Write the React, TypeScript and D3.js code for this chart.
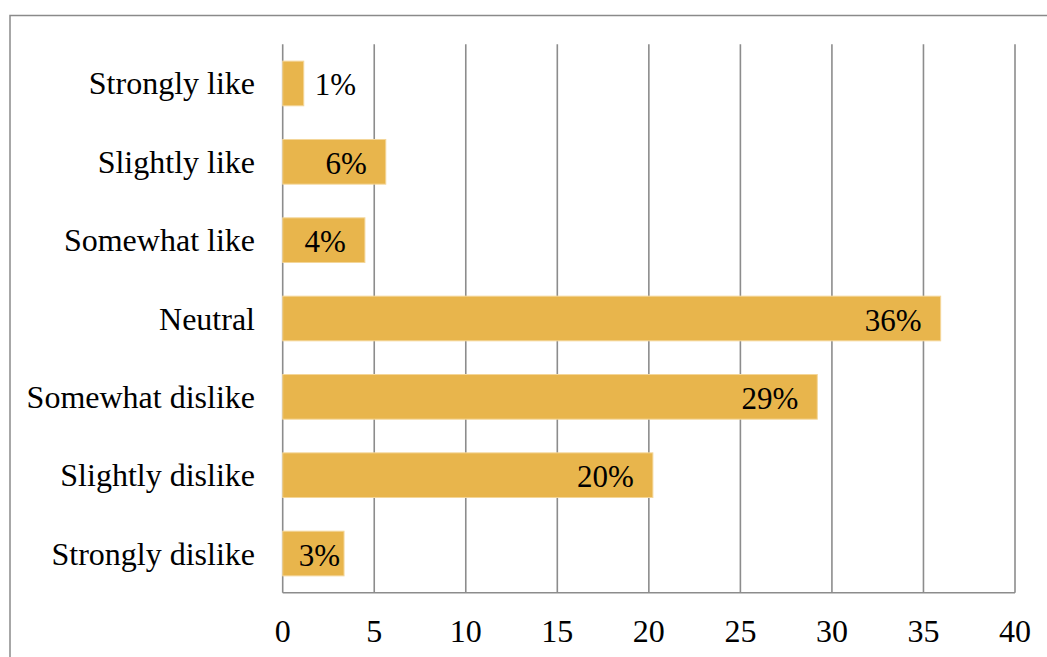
import React from "react";
import * as d3 from "d3";

const categories = [
  "Strongly like",
  "Slightly like",
  "Somewhat like",
  "Neutral",
  "Somewhat dislike",
  "Slightly dislike",
  "Strongly dislike",
];
const values = [1.15, 5.63, 4.49, 35.94, 29.2, 20.22, 3.35];
const xTicks = [0, 5, 10, 15, 20, 25, 30, 35, 40];

const W = 1047;
const H = 657;
const FONT = "'Liberation Serif', 'Times New Roman', serif";
const FS = 32;
const FS_VAL = 31;
const GRID = "#8c8c8c";
const BAR = "#E8B54C";
const axisText = { fontFamily: FONT, fontSize: FS };
const valueText = { fontFamily: FONT, fontSize: FS_VAL };

// Approximate advance width of a percentage label in Times-metric serif.
const labelWidth = (s: string) =>
  s.split("").reduce((a, c) => a + (c === "%" ? 0.833 : 0.5), 0) * FS_VAL;

export default function App() {
  const x = d3.scaleLinear().domain([0, 40]).range([282.7, 1015]);
  const y = d3
    .scaleBand<string>()
    .domain(categories)
    .range([44.3, 592.7])
    .paddingInner(0.43)
    .paddingOuter(0.215);
  const x0 = x(0);
  const fmt = (v: number) => `${Math.round(v)}%`;

  return (
    <svg
      width={W}
      height={H}
      style={{ position: "absolute", left: 0, top: 0, display: "block", background: "#fff" }}
    >
      {/* chart frame */}
      <rect x={10} y={15.5} width={W + 20} height={H + 20} fill="none" stroke="#8a8a8a" strokeWidth={1.5} />

      {/* vertical gridlines */}
      {xTicks.map((t) => (
        <line key={t} x1={x(t)} x2={x(t)} y1={44.3} y2={592.7} stroke={GRID} strokeWidth={1.6} />
      ))}
      {/* bottom axis line */}
      <line x1={x0} x2={x(40)} y1={592.7} y2={592.7} stroke={GRID} strokeWidth={1.6} />

      {/* tick labels */}
      {xTicks.map((t) => (
        <text key={t} x={x(t)} y={642} textAnchor="middle" style={axisText} fill="#000">
          {t}
        </text>
      ))}

      {/* bars */}
      {categories.map((c, i) => (
        <rect
          key={c}
          x={x0}
          y={y(c)!}
          width={x(values[i]) - x0}
          height={y.bandwidth()}
          fill={BAR}
          stroke="#F4D699"
          strokeWidth={1}
        />
      ))}

      {/* category labels */}
      {categories.map((c) => (
        <text
          key={c}
          x={255}
          y={y(c)! + y.bandwidth() / 2 + 11}
          textAnchor="end"
          style={axisText}
          fill="#000"
        >
          {c}
        </text>
      ))}

      {/* value labels */}
      {categories.map((c, i) => {
        const v = values[i];
        const s = fmt(v);
        const w = labelWidth(s);
        const end = x(v);
        const cy = y(c)! + y.bandwidth() / 2 + 12;
        let lx: number;
        let anchor: "start" | "end";
        if (end - x0 < w + 10) {
          lx = end + 11;
          anchor = "start";
        } else if (end - 19 - w < x0 + 16) {
          lx = x0 + 16;
          anchor = "start";
        } else {
          lx = end - 19;
          anchor = "end";
        }
        return (
          <text key={c} x={lx} y={cy} textAnchor={anchor} style={valueText} fill="#000">
            {s}
          </text>
        );
      })}
    </svg>
  );
}
